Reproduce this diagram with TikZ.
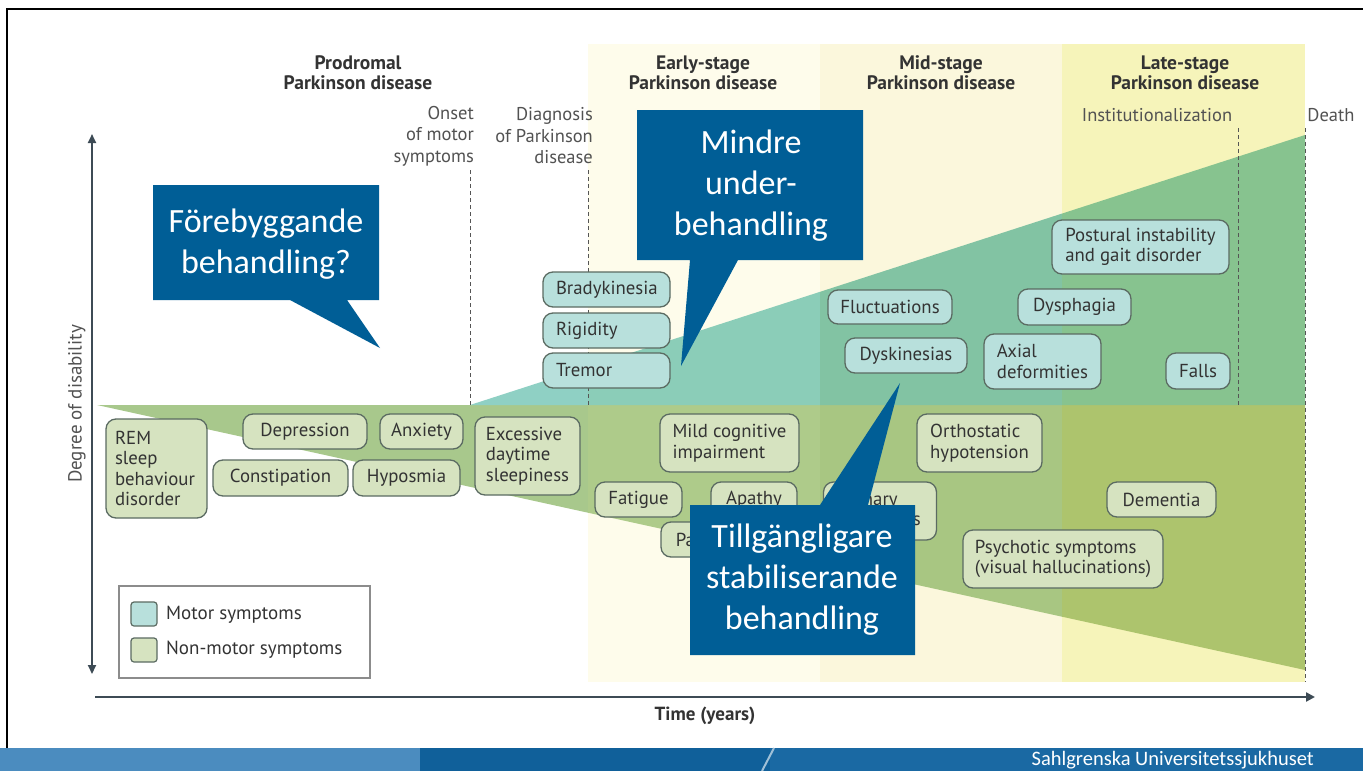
\documentclass[tikz,border=0pt]{standalone}
\usepackage{fontspec}
\setmainfont{PT Sans}
\newfontfamily\callfont{Carlito}
\usetikzlibrary{arrows.meta}
\definecolor{txt}{HTML}{333333}
\definecolor{boxline}{HTML}{5B6B62}
\definecolor{motorfill}{HTML}{B8E0DC}
\definecolor{nmfill}{HTML}{D6E3C0}
\definecolor{bandA}{HTML}{FEFCEB}
\definecolor{bandB}{HTML}{FBF7DC}
\definecolor{bandC}{HTML}{F6F4BA}
\definecolor{nmA}{HTML}{A8C88C}
\definecolor{nmB}{HTML}{AECB8A}
\definecolor{nmC}{HTML}{A8C682}
\definecolor{nmD}{HTML}{ADC46D}
\definecolor{mA}{HTML}{8FD0C4}
\definecolor{mB}{HTML}{8BCDB8}
\definecolor{mC}{HTML}{82C3A3}
\definecolor{mD}{HTML}{87C38F}
\definecolor{callblue}{HTML}{005E96}
\definecolor{axiscol}{HTML}{3D4B55}
\definecolor{dashcol}{HTML}{555555}
\definecolor{banA}{HTML}{4B8CBF}
\definecolor{banB}{HTML}{10609A}
\definecolor{banC}{HTML}{1A69A3}
\tikzset{
  box/.style={draw=boxline, line width=1.3pt, rounded corners=10pt, text=txt, inner sep=0pt, align=center,
    font=\fontsize{18.8}{20.5}\selectfont},
  motor/.style={box, fill=motorfill},
  nonmotor/.style={box, fill=nmfill},
  stagetitle/.style={font=\bfseries\fontsize{19.5}{20}\selectfont, text=txt, align=center, inner sep=0pt},
  eventlbl/.style={font=\fontsize{18.5}{21.5}\selectfont, text=txt!85, inner sep=0pt},
  marker/.style={draw=dashcol, line width=1pt, dash pattern=on 4pt off 3pt},
  axisline/.style={draw=axiscol, line width=2.6pt},
  callout/.style={fill=callblue},
  calltext/.style={font=\callfont\fontsize{34}{41}\selectfont, text=white, align=center, inner sep=0pt},
  legtext/.style={font=\fontsize{19}{21}\selectfont, text=txt, anchor=west, inner sep=0pt},
}
\begin{document}
\begin{tikzpicture}[x=1pt,y=-1pt]
\useasboundingbox (0,0) rectangle (1363,771);
\fill[white] (0,0) rectangle (1363,771);
% stage bands
\fill[bandA] (588,44) rectangle (820,682);
\fill[bandB] (820,44) rectangle (1062,682);
\fill[bandC] (1062,44) rectangle (1305,682);
% symptom areas, tinted per band
\foreach \xa/\xb/\cn/\cm in {0/588/nmA/mA, 588/820/nmB/mB, 820/1062/nmC/mC, 1062/1305/nmD/mD}{
  \begin{scope}
    \clip (\xa,0) rectangle (\xb,771);
    \fill[\cn] (97,405) -- (1305,405) -- (1305,670) -- cycle;
    \fill[\cm] (470,405) -- (1305,135) -- (1305,405) -- cycle;
  \end{scope}
}
% event markers
\coordinate (onsetT) at (470,170); \coordinate (onsetB) at (470,405);
\coordinate (diagT) at (588,170); \coordinate (diagB) at (588,405);
\coordinate (instT) at (1238,128); \coordinate (instB) at (1238,405);
\coordinate (deathT) at (1305,128); \coordinate (deathB) at (1305,682);
\draw[marker] (onsetT) -- (onsetB);
\draw[marker] (diagT) -- (diagB);
\draw[marker] (instT) -- (instB);
\draw[marker] (deathT) -- (deathB);
% axes
\coordinate (yb) at (92,674); \coordinate (yt) at (92,134);
\coordinate (xl) at (95,697); \coordinate (xr) at (1315,697);
\draw[axisline, line width=2.2pt, {Triangle[length=9pt,width=8pt]}-{Triangle[length=9pt,width=8pt]}] (yb) -- (yt);
\draw[axisline, -{Triangle[length=9pt,width=9pt]}] (xl) -- (xr);
\node[font=\bfseries\fontsize{19}{21}\selectfont, text=txt] (xlab) at (705,716) {Time (years)};
\node[font=\fontsize{19}{21}\selectfont, text=txt!85, rotate=90] (ylab) at (77,404) {Degree of disability};
% stage titles
\node[stagetitle] (prod) at (358,73) {Prodromal\\Parkinson disease};
\node[stagetitle] (early) at (703,73) {Early-stage\\Parkinson disease};
\node[stagetitle] (mid) at (941,73) {Mid-stage\\Parkinson disease};
\node[stagetitle] (late) at (1185,73) {Late-stage\\Parkinson disease};
% event labels
\node[eventlbl, anchor=east, align=right] (onset) at (474,136) {Onset\\of motor\\symptoms};
\node[eventlbl, anchor=east, align=right] (diag) at (593,136) {Diagnosis\\of Parkinson\\disease};
\node[eventlbl] (inst) at (1157,115) {Institutionalization};
\node[eventlbl] (death) at (1331,115) {Death};
% motor symptoms
\node[motor, minimum width=127, minimum height=35, text width=101, align=left] (brady) at (606.5,289.5) {Bradykinesia};
\node[motor, minimum width=127, minimum height=35, text width=101, align=left] (rigid) at (606.5,330.5) {Rigidity};
\node[motor, minimum width=127, minimum height=35, text width=101, align=left] (tremor) at (606.5,370.5) {Tremor};
\node[motor, minimum width=124, minimum height=34] (fluct) at (890,307) {Fluctuations};
\node[motor, minimum width=122, minimum height=35] (dysk) at (906,355.5) {Dyskinesias};
\node[motor, minimum width=113, minimum height=36] (dysph) at (1074.5,307) {Dysphagia};
\node[motor, minimum width=117, minimum height=55, align=left] (axial) at (1042.5,361.5) {Axial\\deformities};
\node[motor, minimum width=177, minimum height=54, align=left] (postural) at (1140.5,247) {Postural instability\\and gait disorder};
\node[motor, minimum width=64, minimum height=36] (falls) at (1198,371) {Falls};
% non-motor symptoms
\node[nonmotor, minimum width=101, minimum height=99, text width=83, align=left] (rem) at (156.5,468.5) {REM\\sleep\\behaviour\\disorder};
\node[nonmotor, minimum width=124, minimum height=35] (depr) at (305,431.5) {Depression};
\node[nonmotor, minimum width=83, minimum height=35] (anx) at (421.5,431.5) {Anxiety};
\node[nonmotor, minimum width=135, minimum height=36] (const) at (280.5,478) {Constipation};
\node[nonmotor, minimum width=107, minimum height=36] (hypo) at (406.5,478) {Hyposmia};
\node[nonmotor, minimum width=105, minimum height=78, align=left] (eds) at (527.5,456) {Excessive\\daytime\\sleepiness};
\node[nonmotor, minimum width=139, minimum height=58, align=left] (mci) at (729.5,443) {Mild cognitive\\impairment};
\node[nonmotor, minimum width=87, minimum height=35] (fatigue) at (638.5,499.5) {Fatigue};
\node[nonmotor, minimum width=86, minimum height=35] (apathy) at (754,499.5) {Apathy};
\node[nonmotor, minimum width=64, minimum height=35] (pain) at (693,539.5) {Pain};
\node[nonmotor, minimum width=113, minimum height=58, align=left] (urin) at (880,511) {Urinary\\symptoms};
\node[nonmotor, minimum width=125, minimum height=58, align=left] (ortho) at (979.5,443) {Orthostatic\\hypotension};
\node[nonmotor, minimum width=109, minimum height=35] (dementia) at (1161.5,499.5) {Dementia};
\node[nonmotor, minimum width=200, minimum height=58, align=left] (psych) at (1063,559) {Psychotic symptoms\\(visual hallucinations)};
% legend
\node[draw=black!45, line width=1.2pt, fill=white, minimum width=251, minimum height=92, inner sep=0pt] (legend) at (244.5,632) {};
\node[draw=boxline, line width=1.2pt, fill=motorfill, rounded corners=3pt, minimum width=26, minimum height=24, inner sep=0pt] (lgm) at (144,614) {};
\node[draw=boxline, line width=1.2pt, fill=nmfill, rounded corners=3pt, minimum width=26, minimum height=24, inner sep=0pt] (lgn) at (144,650) {};
\node[legtext] (lgmt) at (166,615) {Motor symptoms};
\node[legtext] (lgnt) at (166,650) {Non-motor symptoms};
% callouts
\fill[callout] (153,185) -- (379,185) -- (379,300) -- (347,300) -- (380,348) -- (290,300) -- (153,300) -- cycle;
\node[calltext] (c1) at (266,244) {Förebyggande\\behandling?};
\fill[callout] (637,110) -- (863,110) -- (863,260) -- (738,260) -- (681,366) -- (690,260) -- (637,260) -- cycle;
\node[calltext] (c2) at (751,186) {Mindre\\under-\\behandling};
\fill[callout] (690,505) -- (820,505) -- (900,383) -- (868,505) -- (915,505) -- (915,655) -- (690,655) -- cycle;
\node[calltext] (c3) at (802,580) {Tillgängligare\\stabiliserande\\behandling};
% slide frame
\draw[black, line width=2.5pt] (7,748) -- (7,9) -- (1363,9);
% footer banner
\fill[banA] (0,748) rectangle (420,771);
\fill[banB] (420,748) rectangle (770,771);
\fill[banC] (770,748) rectangle (1363,771);
\draw[white!60!banB, line width=2pt] (762,771) -- (774,748);
\node[font=\callfont\fontsize{20.5}{22}\selectfont, text=white, anchor=east, inner sep=0pt] (footer) at (1314,760) {Sahlgrenska Universitetssjukhuset};
\end{tikzpicture}
\end{document}
